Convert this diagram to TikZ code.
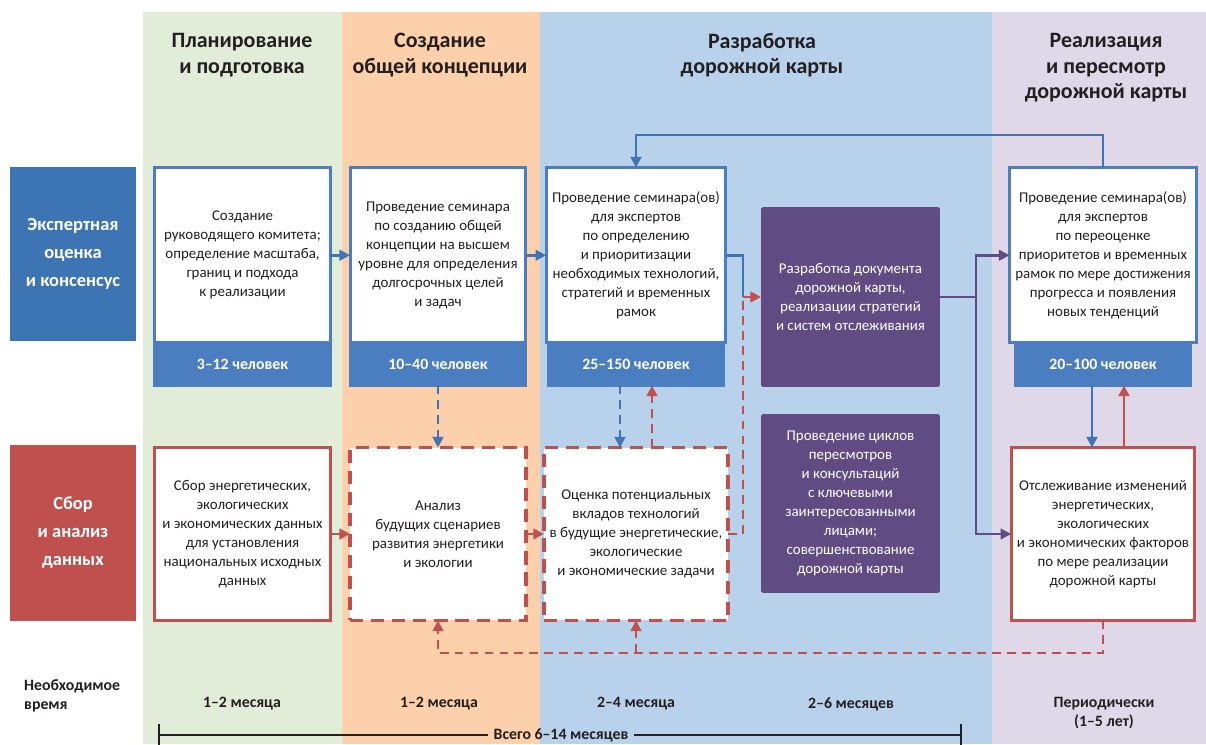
\documentclass[tikz,border=0pt]{standalone}
\usepackage{fontspec}
\setmainfont{Carlito}
\usepackage{tikz}
\usetikzlibrary{positioning}
\usetikzlibrary{arrows.meta}

\definecolor{ink}{HTML}{231F20}
\definecolor{bandgreen}{HTML}{E2EDD9}
\definecolor{bandorange}{HTML}{FBD0AA}
\definecolor{bandblue}{HTML}{B8D2EC}
\definecolor{bandpurple}{HTML}{DFD8E8}
\definecolor{boxblue}{HTML}{4A7EC1}
\definecolor{lineblue}{HTML}{3F74B7}
\definecolor{labelblue}{HTML}{3D74B4}
\definecolor{datared}{HTML}{C0504D}
\definecolor{docpurple}{HTML}{604C83}

\begin{document}
\begin{tikzpicture}[x=0.02cm, y=-0.02cm, >={Triangle[length=6pt,width=6pt]},
		phasehead/.style={font=\fontsize{12.5}{14.5}\selectfont\bfseries, text=ink, align=center},
		rowlabel/.style={font=\fontsize{10.5}{16}\selectfont\bfseries, text=white, align=center, minimum width=2.52cm, outer sep=0pt},
		stage/.style={draw=boxblue, line width=1.7pt, fill=white, text=ink, minimum width=3.52cm, minimum height=3.51cm, align=center, outer sep=0pt, font=\fontsize{8.5}{10.8}\selectfont},
		crowd/.style={draw=boxblue, fill=boxblue, line width=1.7pt, text=white, minimum width=3.52cm, minimum height=0.85cm, outer sep=0pt, font=\fontsize{9}{11}\selectfont\bfseries},
		datacell/.style={draw=datared, line width=1.7pt, fill=white, text=ink, minimum width=3.52cm, minimum height=3.46cm, align=center, outer sep=0pt, font=\fontsize{8.5}{10.8}\selectfont},
		scenario/.style={datacell, line width=2pt, dash pattern=on 7.5pt off 4.5pt},
		docbox/.style={fill=docpurple, text=white, minimum width=3.58cm, align=center, outer sep=0pt, rounded corners=1pt, font=\fontsize{8.5}{10.8}\selectfont},
		timing/.style={font=\fontsize{9}{10.5}\selectfont\bfseries, text=ink, align=center},
		blueflow/.style={draw=lineblue, line width=1.5pt},
		redflow/.style={draw=datared, line width=1.5pt},
		purpleflow/.style={draw=docpurple, line width=1.5pt},
		loose/.style={dash pattern=on 5pt off 3.5pt}]

	\clip (0,0) rectangle (1206,744);

	% phase bands
	\fill[white] (0,0) rectangle (1206,744);
	\fill[bandgreen] (143,12) rectangle (342,744);
	\fill[bandorange] (342,12) rectangle (540,744);
	\fill[bandblue] (540,12) rectangle (992,744);
	\fill[bandpurple] (992,12) rectangle (1206,744);

	\node[phasehead] (plan) at (242,55) {Планирование\\и подготовка};
	\node[phasehead] (vision) at (440,55) {Создание\\общей концепции};
	\node[phasehead] (develop) at (762,55) {Разработка\\дорожной карты};
	\node[phasehead] (revise) at (1106,68) {Реализация\\и пересмотр\\дорожной карты};

	% row labels
	\node[rowlabel, fill=labelblue, minimum height=3.5cm] (expert) at (73,254) {Экспертная\\оценка\\и консенсус};
	\node[rowlabel, fill=datared, minimum height=3.52cm] (data) at (73,533) {Сбор\\и анализ\\данных};

	% expert row
	\node[stage] (box1) at (242.5,255.25) {Создание\\руководящего комитета;\\определение масштаба,\\границ и подхода\\к реализации};
	\node[crowd, below=0pt of box1] (bar1) {3–12 человек};
	\node[stage] (box2) at (438,255.25) {Проведение семинара\\по созданию общей\\концепции на высшем\\уровне для определения\\долгосрочных целей\\и задач};
	\node[crowd, below=0pt of box2] (bar2) {10–40 человек};
	\node[stage] (box3) at (636,255.25) {Проведение семинара(ов)\\для экспертов\\по определению\\и приоритизации\\необходимых технологий,\\стратегий и временных\\рамок};
	\node[crowd, below=0pt of box3] (bar3) {25–150 человек};
	\node[docbox, minimum height=3.6cm] (doc1) at (850.5,297) {Разработка документа\\дорожной карты,\\реализации стратегий\\и систем отслеживания};
	\node[stage] (box5) at (1103,255.25) {Проведение семинара(ов)\\для экспертов\\по переоценке\\приоритетов и временных\\рамок по мере достижения\\прогресса и появления\\новых тенденций};
	\node[crowd, below=0pt of box5] (bar5) {20–100 человек};

	% data row
	\node[datacell] (b1) at (242.5,534) {Сбор энергетических,\\экологических\\и экономических данных\\для установления\\национальных исходных\\данных};
	\node[scenario] (b2) at (438,534) {Анализ\\будущих сценариев\\развития энергетики\\и экологии};
	\node[scenario] (b3) at (636,534) {Оценка потенциальных\\вкладов технологий\\в будущие энергетические,\\экологические\\и экономические задачи};
	\node[docbox, minimum height=3.58cm] (doc2) at (850.5,503.5) {Проведение циклов\\пересмотров\\и консультаций\\с ключевыми\\заинтересованными\\лицами;\\совершенствование\\дорожной карты};
	\node[datacell] (b5) at (1103,534) {Отслеживание изменений\\энергетических,\\экологических\\и экономических факторов\\по мере реализации\\дорожной карты};

	\coordinate (jn) at (743,297);
	\coordinate (split) at (976,297);
	\coordinate (loopTop) at (636,135);
	\coordinate (ret) at (0,653);

	% flows along the expert row
	\draw[blueflow, ->] (box1) -- (box2);
	\draw[blueflow, ->] (box2) -- (box3);
	\draw[blueflow] (box3.east) -| (jn);
	\draw[blueflow, ->] (box5.north) |- (loopTop) -- (box3.north);
	\draw[redflow, loose] (b3.east) -| (jn);
	\draw[redflow, ->] (jn) -- (doc1.west);
	\draw[purpleflow] (doc1.east) -- (split);
	\draw[purpleflow, ->] (split) |- (box5.west);
	\draw[purpleflow, ->] (split) |- (b5.west);

	% links between the rows
	\draw[blueflow, loose, ->] (bar2.south) -- (b2.north);
	\draw[blueflow, loose, ->] ([xshift=-0.32cm]bar3.south) -- ([xshift=-0.32cm]b3.north);
	\draw[redflow, loose, ->] ([xshift=0.32cm]b3.north) -- ([xshift=0.32cm]bar3.south);
	\draw[blueflow, ->] ([xshift=-0.22cm]bar5.south) -- ([xshift=-0.22cm]b5.north);
	\draw[redflow, ->] ([xshift=0.42cm]b5.north) -- ([xshift=0.42cm]bar5.south);

	% flows along the data row
	\draw[redflow, ->] (b1) -- (b2);
	\draw[redflow, ->] (b2) -- (b3);
	\draw[redflow, loose, ->] (b5.south) |- (b2.south |- ret) -- (b2.south);
	\draw[redflow, loose, ->] (b3.south |- ret) -- (b3.south);

	% time needed
	\node[timing, align=left, anchor=west] (need) at (18,696) {Необходимое\\время};
	\node[timing] (t1) at (242,704) {1–2 месяца};
	\node[timing] (t2) at (439,704) {1–2 месяца};
	\node[timing] (t3) at (636,704) {2–4 месяца};
	\node[timing] (t4) at (851,704) {2–6 месяцев};
	\node[timing] (t5) at (1104,713) {Периодически\\(1–5 лет)};

	\node[timing, inner xsep=3pt] (total) at (561,735) {Всего 6–14 месяцев};
	\coordinate (brL) at (159,735);
	\coordinate (brR) at (961,735);
	\draw[ink, line width=1.3pt] (brL) -- (total.west);
	\draw[ink, line width=1.3pt] (total.east) -- (brR);
	\draw[ink, line width=1.3pt] (159,724) -- (159,746);
	\draw[ink, line width=1.3pt] (961,724) -- (961,746);
\end{tikzpicture}
\end{document}
